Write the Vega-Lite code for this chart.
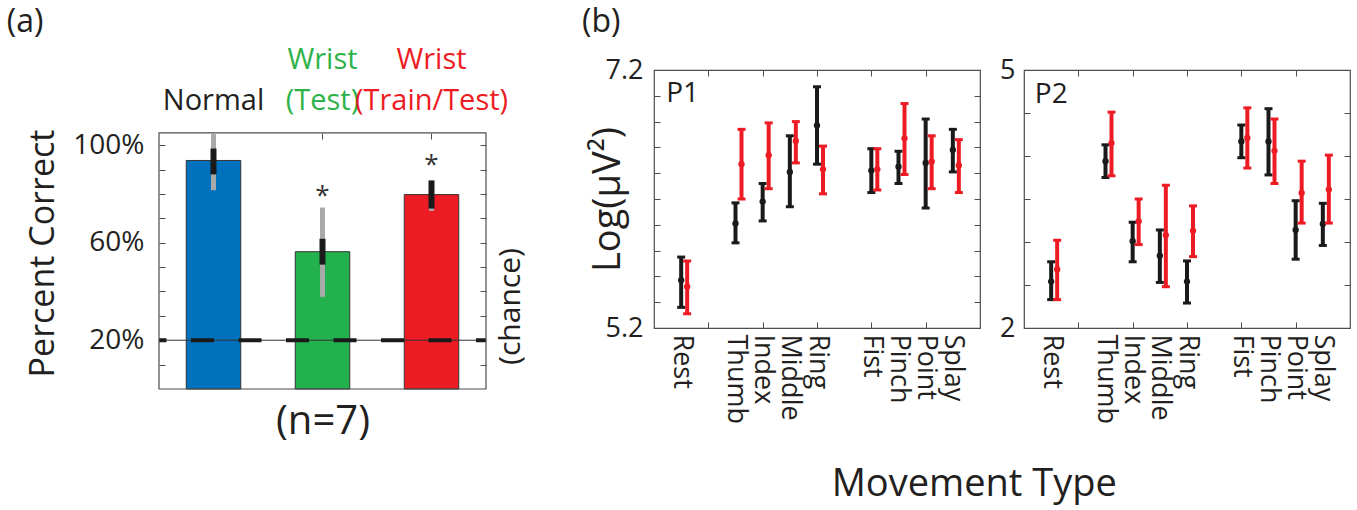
{
  "$schema": "https://vega.github.io/schema/vega-lite/v6.json",
  "padding": {"left": 6, "top": 5, "right": 0, "bottom": 0},
  "config": {
    "font": "Open Sans",
    "view": {"stroke": "#4d4d4d", "strokeWidth": 1.2},
    "axis": {"labelColor": "#231F20", "titleColor": "#231F20", "tickColor": "#4d4d4d", "tickWidth": 1, "titleFontWeight": "normal", "labelFont": "Open Sans", "titleFont": "Open Sans", "grid": false, "domain": false, "labelOverlap": false},
    "title": {"fontWeight": "normal", "color": "#231F20", "font": "Open Sans"}
  },
  "datasets": {
    "a": [
      {"cond": "Normal", "val": 93.7, "glo": 81.5, "ghi": 104.5, "blo": 88, "bhi": 98.6, "star": null},
      {"cond": "Wrist (Test)", "val": 56.3, "glo": 37.8, "ghi": 74.4, "blo": 51, "bhi": 61.6, "star": 79},
      {"cond": "Wrist (Train/Test)", "val": 79.7, "glo": 73, "ghi": 85.5, "blo": 74, "bhi": 85.5, "star": 92}
    ],
    "chance": [{"level": 20}],
    "p1": [
      {"m": "Rest", "pos": 1, "s": "b", "c": 5.57, "lo": 5.36, "hi": 5.75},
      {"m": "Rest", "pos": 1, "s": "r", "c": 5.52, "lo": 5.31, "hi": 5.72},
      {"m": "Thumb", "pos": 3, "s": "b", "c": 6.01, "lo": 5.86, "hi": 6.17},
      {"m": "Thumb", "pos": 3, "s": "r", "c": 6.47, "lo": 6.2, "hi": 6.74},
      {"m": "Index", "pos": 4, "s": "b", "c": 6.18, "lo": 6.03, "hi": 6.32},
      {"m": "Index", "pos": 4, "s": "r", "c": 6.54, "lo": 6.28, "hi": 6.79},
      {"m": "Middle", "pos": 5, "s": "b", "c": 6.41, "lo": 6.14, "hi": 6.69},
      {"m": "Middle", "pos": 5, "s": "r", "c": 6.65, "lo": 6.48, "hi": 6.8},
      {"m": "Ring", "pos": 6, "s": "b", "c": 6.77, "lo": 6.47, "hi": 7.07},
      {"m": "Ring", "pos": 6, "s": "r", "c": 6.43, "lo": 6.24, "hi": 6.61},
      {"m": "Fist", "pos": 8, "s": "b", "c": 6.42, "lo": 6.25, "hi": 6.59},
      {"m": "Fist", "pos": 8, "s": "r", "c": 6.43, "lo": 6.27, "hi": 6.59},
      {"m": "Pinch", "pos": 9, "s": "b", "c": 6.45, "lo": 6.32, "hi": 6.57},
      {"m": "Pinch", "pos": 9, "s": "r", "c": 6.67, "lo": 6.39, "hi": 6.94},
      {"m": "Point", "pos": 10, "s": "b", "c": 6.48, "lo": 6.13, "hi": 6.82},
      {"m": "Point", "pos": 10, "s": "r", "c": 6.49, "lo": 6.28, "hi": 6.69},
      {"m": "Splay", "pos": 11, "s": "b", "c": 6.58, "lo": 6.41, "hi": 6.74},
      {"m": "Splay", "pos": 11, "s": "r", "c": 6.46, "lo": 6.25, "hi": 6.66}
    ],
    "p2": [
      {"m": "Rest", "pos": 1, "s": "b", "c": 2.54, "lo": 2.33, "hi": 2.77},
      {"m": "Rest", "pos": 1, "s": "r", "c": 2.68, "lo": 2.33, "hi": 3.02},
      {"m": "Thumb", "pos": 3, "s": "b", "c": 3.94, "lo": 3.75, "hi": 4.13},
      {"m": "Thumb", "pos": 3, "s": "r", "c": 4.15, "lo": 3.77, "hi": 4.51},
      {"m": "Index", "pos": 4, "s": "b", "c": 3.01, "lo": 2.77, "hi": 3.23},
      {"m": "Index", "pos": 4, "s": "r", "c": 3.24, "lo": 2.97, "hi": 3.5},
      {"m": "Middle", "pos": 5, "s": "b", "c": 2.84, "lo": 2.53, "hi": 3.14},
      {"m": "Middle", "pos": 5, "s": "r", "c": 3.08, "lo": 2.48, "hi": 3.66},
      {"m": "Ring", "pos": 6, "s": "b", "c": 2.54, "lo": 2.29, "hi": 2.78},
      {"m": "Ring", "pos": 6, "s": "r", "c": 3.13, "lo": 2.83, "hi": 3.42},
      {"m": "Fist", "pos": 8, "s": "b", "c": 4.17, "lo": 3.98, "hi": 4.36},
      {"m": "Fist", "pos": 8, "s": "r", "c": 4.21, "lo": 3.86, "hi": 4.56},
      {"m": "Pinch", "pos": 9, "s": "b", "c": 4.17, "lo": 3.78, "hi": 4.55},
      {"m": "Pinch", "pos": 9, "s": "r", "c": 4.06, "lo": 3.68, "hi": 4.43},
      {"m": "Point", "pos": 10, "s": "b", "c": 3.14, "lo": 2.8, "hi": 3.48},
      {"m": "Point", "pos": 10, "s": "r", "c": 3.57, "lo": 3.22, "hi": 3.94},
      {"m": "Splay", "pos": 11, "s": "b", "c": 3.21, "lo": 2.96, "hi": 3.45},
      {"m": "Splay", "pos": 11, "s": "r", "c": 3.61, "lo": 3.22, "hi": 4.01}
    ]
  },
  "spacing": 55,
  "hconcat": [
    {
      "width": 327,
      "height": 319,
      "view": {"stroke": null},
      "title": {"text": "(a)", "anchor": "start", "frame": "bounds", "fontSize": 32, "dx": -20, "offset": 6},
      "data": {"name": "a"},
      "layer": [
        {
          "mark": {"type": "bar", "stroke": "#333333", "strokeWidth": 1, "opacity": 1},
          "encoding": {
            "x": {"field": "cond", "type": "nominal", "sort": null,
              "scale": {"domain": ["Normal", "Wrist (Test)", "Wrist (Train/Test)"], "paddingInner": 0.5, "paddingOuter": 0.25},
              "axis": {"orient": "bottom", "title": "(n=7)", "labels": false, "ticks": false, "titleFontSize": 40, "titlePadding": 12}},
            "y": {"field": "val", "type": "quantitative",
              "scale": {"domain": [0, 130.8], "nice": false, "zero": false},
              "axis": {"orient": "left", "values": [10, 20, 30, 40, 50, 60, 70, 80, 90, 100],
                "labelExpr": "datum.value == 20 || datum.value == 60 || datum.value == 100 ? datum.value + '%' : ''",
                "labelFontSize": 28, "labelPadding": 21, "tickSize": -6,
                "title": "Percent Correct", "titleFontSize": 34, "titlePadding": 12, "titleY": 183}},
            "color": {"field": "cond", "type": "nominal",
              "scale": {"domain": ["Normal", "Wrist (Test)", "Wrist (Train/Test)"], "range": ["#0071BC", "#22B14C", "#ED1C24"]},
              "legend": null}
          }
        },
        {
          "mark": {"type": "rule", "color": "#A9A9A9", "strokeWidth": 5, "opacity": 1},
          "encoding": {
            "x": {"field": "cond", "type": "nominal", "axis": null},
            "y": {"field": "glo", "type": "quantitative", "axis": null},
            "y2": {"field": "ghi"}
          }
        },
        {
          "mark": {"type": "rule", "color": "#1a1a1a", "strokeWidth": 6, "opacity": 1},
          "encoding": {
            "x": {"field": "cond", "type": "nominal",
              "axis": {"orient": "top", "offset": -63, "title": null, "labelAngle": 0,
                "labelExpr": "datum.value == 'Normal' ? ['', 'Normal'] : ['Wrist', datum.value == 'Wrist (Test)' ? '(Test)' : '(Train/Test)']",
                "labelFontSize": 29, "labelLineHeight": 41, "labelPadding": 65, "labelBaseline": "bottom",
                "labelColor": {"condition": [{"test": "datum.value == 'Normal'", "value": "#231F20"}, {"test": "datum.value == 'Wrist (Test)'", "value": "#2DB34A"}], "value": "#ED1C24"},
                "tickSize": -6}},
            "y": {"field": "blo", "type": "quantitative",
              "axis": {"orient": "right", "values": [10, 20, 30, 40, 50, 60, 70, 80, 90, 100], "labels": false, "tickSize": -6,
                "title": "(chance)", "titleAngle": -90, "titleBaseline": "top", "titleFontSize": 30, "titlePadding": 9, "titleY": 236}},
            "y2": {"field": "bhi"}
          }
        },
        {
          "transform": [{"filter": "datum.star != null"}],
          "mark": {"type": "text", "text": "*", "fontSize": 26, "color": "#333333", "baseline": "middle"},
          "encoding": {
            "x": {"field": "cond", "type": "nominal", "axis": null},
            "y": {"field": "star", "type": "quantitative", "axis": null}
          }
        },
        {
          "data": {"name": "chance"},
          "mark": {"type": "rule", "color": "#333333", "strokeWidth": 1},
          "encoding": {"y": {"field": "level", "type": "quantitative", "axis": null}}
        },
        {
          "data": {"name": "chance"},
          "mark": {"type": "rule", "color": "#1a1a1a", "strokeWidth": 4, "strokeDash": [23, 24.5], "strokeDashOffset": 13},
          "encoding": {"y": {"field": "level", "type": "quantitative", "axis": null}}
        },
        {
          "data": {"values": [{"frame": "plot"}]},
          "mark": {"type": "rect", "fillOpacity": 0, "stroke": "#4d4d4d", "strokeWidth": 1.2},
          "encoding": {
            "y": {"datum": 0, "type": "quantitative", "axis": null},
            "y2": {"datum": 105}
          }
        }
      ],
      "resolve": {"axis": {"x": "independent", "y": "independent"}}
    },
    {
      "spacing": 44,
      "bounds": "flush",
      "title": {"text": "Movement Type", "orient": "bottom", "anchor": "middle", "frame": "bounds", "fontSize": 38, "offset": 42, "dx": 8},
      "hconcat": [
        {
          "width": 326,
          "height": 258,
          "title": {"text": "(b)", "anchor": "start", "frame": "bounds", "fontSize": 32, "offset": 17, "dx": -7},
          "data": {"name": "p1"},
          "layer": [
            {
              "transform": [{"filter": "datum.s == 'b'"}],
              "mark": {"type": "rule", "strokeWidth": 4, "color": "#1a1a1a", "opacity": 1},
              "encoding": {
                "x": {"field": "pos", "type": "quantitative",
                  "scale": {"domain": [0, 12], "nice": false, "zero": false},
                  "axis": {"orient": "bottom", "values": [1, 2, 3, 4, 5, 6, 8, 9, 10, 11],
                    "labelExpr": "['', 'Rest', '', 'Thumb', 'Index', 'Middle', 'Ring', '', 'Fist', 'Pinch', 'Point', 'Splay'][datum.value]",
                    "labelAngle": 90, "labelFontSize": 27, "labelPadding": 12, "labelFlush": false, "tickSize": -6,
                    "tickOpacity": {"condition": {"test": "datum.value % 2 == 0", "value": 1}, "value": 0},
                    "title": null}},
                "y": {"field": "lo", "type": "quantitative",
                  "scale": {"domain": [5.2, 7.2], "nice": false, "zero": false},
                  "axis": {"orient": "left", "values": [5.2, 5.4, 5.6, 5.8, 6.0, 6.2, 6.4, 6.6, 6.8, 7.0, 7.2],
                    "labelExpr": "abs(datum.value - 5.2) < 0.01 || abs(datum.value - 7.2) < 0.01 ? format(datum.value, '.1f') : ''",
                    "labelFontSize": 27, "labelPadding": 17, "tickSize": -6,
                    "title": "Log(μV²)", "titleFontSize": 38, "titlePadding": -22}},
                "y2": {"field": "hi"}
              }
            },
            {
              "transform": [{"filter": "datum.s == 'b'"}],
              "mark": {"type": "tick", "orient": "horizontal", "size": 8, "thickness": 3, "color": "#1a1a1a", "opacity": 1},
              "encoding": {"x": {"field": "pos", "type": "quantitative", "axis": null}, "y": {"field": "lo", "type": "quantitative", "axis": null}}
            },
            {
              "transform": [{"filter": "datum.s == 'b'"}],
              "mark": {"type": "tick", "orient": "horizontal", "size": 8, "thickness": 3, "color": "#1a1a1a", "opacity": 1},
              "encoding": {"x": {"field": "pos", "type": "quantitative", "axis": null}, "y": {"field": "hi", "type": "quantitative", "axis": null}}
            },
            {
              "transform": [{"filter": "datum.s == 'b'"}],
              "mark": {"type": "circle", "size": 40, "color": "#1a1a1a", "opacity": 1},
              "encoding": {"x": {"field": "pos", "type": "quantitative", "axis": null}, "y": {"field": "c", "type": "quantitative", "axis": null}}
            },
            {
              "transform": [{"filter": "datum.s == 'r'"}],
              "mark": {"type": "rule", "strokeWidth": 4, "color": "#ED1C24", "opacity": 1, "xOffset": 6},
              "encoding": {
                "x": {"field": "pos", "type": "quantitative",
                  "axis": {"orient": "top", "values": [2, 4, 6, 8, 10], "labels": false, "tickSize": -6, "title": null}},
                "y": {"field": "lo", "type": "quantitative",
                  "axis": {"orient": "right", "values": [5.4, 5.6, 5.8, 6.0, 6.2, 6.4, 6.6, 6.8, 7.0], "labels": false, "tickSize": -6, "title": null}},
                "y2": {"field": "hi"}
              }
            },
            {
              "transform": [{"filter": "datum.s == 'r'"}],
              "mark": {"type": "tick", "orient": "horizontal", "size": 8, "thickness": 3, "color": "#ED1C24", "opacity": 1, "xOffset": 6},
              "encoding": {"x": {"field": "pos", "type": "quantitative", "axis": null}, "y": {"field": "lo", "type": "quantitative", "axis": null}}
            },
            {
              "transform": [{"filter": "datum.s == 'r'"}],
              "mark": {"type": "tick", "orient": "horizontal", "size": 8, "thickness": 3, "color": "#ED1C24", "opacity": 1, "xOffset": 6},
              "encoding": {"x": {"field": "pos", "type": "quantitative", "axis": null}, "y": {"field": "hi", "type": "quantitative", "axis": null}}
            },
            {
              "transform": [{"filter": "datum.s == 'r'"}],
              "mark": {"type": "circle", "size": 40, "color": "#ED1C24", "opacity": 1, "xOffset": 6},
              "encoding": {"x": {"field": "pos", "type": "quantitative", "axis": null}, "y": {"field": "c", "type": "quantitative", "axis": null}}
            },
            {
              "data": {"values": [{"panel": "P1", "px": 0.45, "py": 7.12}]},
              "mark": {"type": "text", "fontSize": 28, "align": "left", "baseline": "top", "color": "#231F20"},
              "encoding": {
                "x": {"field": "px", "type": "quantitative", "axis": null},
                "y": {"field": "py", "type": "quantitative", "axis": null},
                "text": {"field": "panel"}
              }
            }
          ],
          "resolve": {"axis": {"x": "independent", "y": "independent"}}
        },
        {
          "width": 326,
          "height": 258,
          "data": {"name": "p2"},
          "layer": [
            {
              "transform": [{"filter": "datum.s == 'b'"}],
              "mark": {"type": "rule", "strokeWidth": 4, "color": "#1a1a1a", "opacity": 1},
              "encoding": {
                "x": {"field": "pos", "type": "quantitative",
                  "scale": {"domain": [0, 12], "nice": false, "zero": false},
                  "axis": {"orient": "bottom", "values": [1, 2, 3, 4, 5, 6, 8, 9, 10, 11],
                    "labelExpr": "['', 'Rest', '', 'Thumb', 'Index', 'Middle', 'Ring', '', 'Fist', 'Pinch', 'Point', 'Splay'][datum.value]",
                    "labelAngle": 90, "labelFontSize": 27, "labelPadding": 12, "labelFlush": false, "tickSize": -6,
                    "tickOpacity": {"condition": {"test": "datum.value % 2 == 0", "value": 1}, "value": 0},
                    "title": null}},
                "y": {"field": "lo", "type": "quantitative",
                  "scale": {"domain": [2, 5], "nice": false, "zero": false},
                  "axis": {"orient": "left", "values": [2, 2.5, 3, 3.5, 4, 4.5, 5],
                    "labelExpr": "datum.value == 2 || datum.value == 5 ? format(datum.value, 'd') : ''",
                    "labelFontSize": 27, "labelPadding": 15, "tickSize": -6, "title": null}},
                "y2": {"field": "hi"}
              }
            },
            {
              "transform": [{"filter": "datum.s == 'b'"}],
              "mark": {"type": "tick", "orient": "horizontal", "size": 8, "thickness": 3, "color": "#1a1a1a", "opacity": 1},
              "encoding": {"x": {"field": "pos", "type": "quantitative", "axis": null}, "y": {"field": "lo", "type": "quantitative", "axis": null}}
            },
            {
              "transform": [{"filter": "datum.s == 'b'"}],
              "mark": {"type": "tick", "orient": "horizontal", "size": 8, "thickness": 3, "color": "#1a1a1a", "opacity": 1},
              "encoding": {"x": {"field": "pos", "type": "quantitative", "axis": null}, "y": {"field": "hi", "type": "quantitative", "axis": null}}
            },
            {
              "transform": [{"filter": "datum.s == 'b'"}],
              "mark": {"type": "circle", "size": 40, "color": "#1a1a1a", "opacity": 1},
              "encoding": {"x": {"field": "pos", "type": "quantitative", "axis": null}, "y": {"field": "c", "type": "quantitative", "axis": null}}
            },
            {
              "transform": [{"filter": "datum.s == 'r'"}],
              "mark": {"type": "rule", "strokeWidth": 4, "color": "#ED1C24", "opacity": 1, "xOffset": 6},
              "encoding": {
                "x": {"field": "pos", "type": "quantitative",
                  "axis": {"orient": "top", "values": [2, 4, 6, 8, 10], "labels": false, "tickSize": -6, "title": null}},
                "y": {"field": "lo", "type": "quantitative",
                  "axis": {"orient": "right", "values": [2.5, 3, 3.5, 4, 4.5], "labels": false, "tickSize": -6, "title": null}},
                "y2": {"field": "hi"}
              }
            },
            {
              "transform": [{"filter": "datum.s == 'r'"}],
              "mark": {"type": "tick", "orient": "horizontal", "size": 8, "thickness": 3, "color": "#ED1C24", "opacity": 1, "xOffset": 6},
              "encoding": {"x": {"field": "pos", "type": "quantitative", "axis": null}, "y": {"field": "lo", "type": "quantitative", "axis": null}}
            },
            {
              "transform": [{"filter": "datum.s == 'r'"}],
              "mark": {"type": "tick", "orient": "horizontal", "size": 8, "thickness": 3, "color": "#ED1C24", "opacity": 1, "xOffset": 6},
              "encoding": {"x": {"field": "pos", "type": "quantitative", "axis": null}, "y": {"field": "hi", "type": "quantitative", "axis": null}}
            },
            {
              "transform": [{"filter": "datum.s == 'r'"}],
              "mark": {"type": "circle", "size": 40, "color": "#ED1C24", "opacity": 1, "xOffset": 6},
              "encoding": {"x": {"field": "pos", "type": "quantitative", "axis": null}, "y": {"field": "c", "type": "quantitative", "axis": null}}
            },
            {
              "data": {"values": [{"panel": "P2", "px": 0.4, "py": 4.87}]},
              "mark": {"type": "text", "fontSize": 28, "align": "left", "baseline": "top", "color": "#231F20"},
              "encoding": {
                "x": {"field": "px", "type": "quantitative", "axis": null},
                "y": {"field": "py", "type": "quantitative", "axis": null},
                "text": {"field": "panel"}
              }
            }
          ],
          "resolve": {"axis": {"x": "independent", "y": "independent"}}
        }
      ]
    }
  ]
}
